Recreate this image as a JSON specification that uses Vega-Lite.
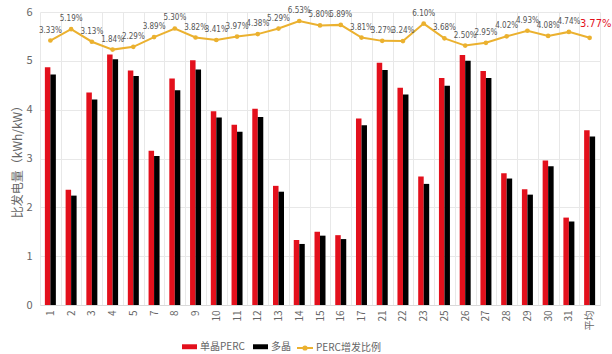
{
  "$schema": "https://vega.github.io/schema/vega-lite/v6.json",
  "width": 560,
  "height": 293,
  "autosize": "none",
  "padding": {"left": 40, "top": 12, "right": 12, "bottom": 49},
  "background": "white",
  "config": {
    "font": "Noto Sans CJK SC",
    "view": {"stroke": null}
  },
  "data": {
    "values": [
      {"cat": "1", "单晶PERC": 4.87, "多晶": 4.72, "pct": 0.0333},
      {"cat": "2", "单晶PERC": 2.36, "多晶": 2.24, "pct": 0.0519},
      {"cat": "3", "单晶PERC": 4.35, "多晶": 4.21, "pct": 0.0313},
      {"cat": "4", "单晶PERC": 5.13, "多晶": 5.03, "pct": 0.0184},
      {"cat": "5", "单晶PERC": 4.80, "多晶": 4.69, "pct": 0.0229},
      {"cat": "7", "单晶PERC": 3.16, "多晶": 3.05, "pct": 0.0389},
      {"cat": "8", "单晶PERC": 4.64, "多晶": 4.40, "pct": 0.0530},
      {"cat": "9", "单晶PERC": 5.01, "多晶": 4.82, "pct": 0.0382},
      {"cat": "10", "单晶PERC": 3.97, "多晶": 3.84, "pct": 0.0341},
      {"cat": "11", "单晶PERC": 3.69, "多晶": 3.55, "pct": 0.0397},
      {"cat": "12", "单晶PERC": 4.02, "多晶": 3.85, "pct": 0.0438},
      {"cat": "13", "单晶PERC": 2.44, "多晶": 2.32, "pct": 0.0529},
      {"cat": "14", "单晶PERC": 1.33, "多晶": 1.25, "pct": 0.0653},
      {"cat": "15", "单晶PERC": 1.50, "多晶": 1.42, "pct": 0.0580},
      {"cat": "16", "单晶PERC": 1.43, "多晶": 1.35, "pct": 0.0589},
      {"cat": "17", "单晶PERC": 3.82, "多晶": 3.68, "pct": 0.0381},
      {"cat": "21", "单晶PERC": 4.96, "多晶": 4.81, "pct": 0.0327},
      {"cat": "22", "单晶PERC": 4.45, "多晶": 4.31, "pct": 0.0324},
      {"cat": "23", "单晶PERC": 2.63, "多晶": 2.48, "pct": 0.0610},
      {"cat": "25", "单晶PERC": 4.65, "多晶": 4.49, "pct": 0.0368},
      {"cat": "26", "单晶PERC": 5.12, "多晶": 5.00, "pct": 0.0250},
      {"cat": "27", "单晶PERC": 4.79, "多晶": 4.65, "pct": 0.0295},
      {"cat": "28", "单晶PERC": 2.70, "多晶": 2.59, "pct": 0.0402},
      {"cat": "29", "单晶PERC": 2.37, "多晶": 2.26, "pct": 0.0493},
      {"cat": "30", "单晶PERC": 2.96, "多晶": 2.84, "pct": 0.0408},
      {"cat": "31", "单晶PERC": 1.79, "多晶": 1.71, "pct": 0.0474},
      {"cat": "平均", "单晶PERC": 3.58, "多晶": 3.45, "pct": 0.0377}
    ]
  },
  "encoding": {
    "x": {
      "field": "cat",
      "type": "nominal",
      "sort": null,
      "scale": {"paddingInner": 0, "paddingOuter": 0},
      "axis": {
        "title": null,
        "labelAngle": -90,
        "labelFontSize": 10,
        "labelColor": "#666666",
        "labelPadding": 5,
        "ticks": false,
        "grid": true,
        "tickBand": "extent",
        "gridColor": "#E8E8E8",
        "domainColor": "#D9D9D9"
      }
    }
  },
  "layer": [
    {
      "transform": [{"fold": ["单晶PERC", "多晶"], "as": ["series", "value"]}],
      "mark": {"type": "bar"},
      "encoding": {
        "xOffset": {
          "field": "series",
          "type": "nominal",
          "scale": {"domain": ["单晶PERC", "多晶"], "paddingInner": 0, "paddingOuter": 0.886}
        },
        "y": {
          "field": "value",
          "type": "quantitative",
          "scale": {"domain": [0, 6]},
          "axis": {
            "title": "比发电量（kWh/kW）",
            "titleFontSize": 12,
            "titleFontWeight": "normal",
            "titleColor": "#666666",
            "titlePadding": 1,
            "values": [0, 1, 2, 3, 4, 5, 6],
            "labelFontSize": 11,
            "labelColor": "#666666",
            "labelPadding": 8,
            "ticks": false,
            "domain": false,
            "gridColor": "#E8E8E8"
          }
        },
        "color": {
          "field": "series",
          "type": "nominal",
          "scale": {"domain": ["单晶PERC", "多晶"], "range": ["#E3101C", "#000000"]},
          "legend": {
            "title": null,
            "orient": "none",
            "direction": "horizontal",
            "legendX": 142,
            "legendY": 327,
            "symbolType": "M-1,-0.33H1V0.33H-1Z",
            "symbolSize": 225,
            "symbolStrokeWidth": 0,
            "labelFontSize": 10,
            "labelColor": "#666666",
            "labelOffset": 3,
            "columnPadding": 8
          }
        }
      }
    },
    {
      "mark": {"type": "line", "strokeWidth": 2},
      "encoding": {
        "y": {
          "field": "pct",
          "type": "quantitative",
          "scale": {"domain": [-0.4, 0.08]},
          "axis": null
        },
        "stroke": {
          "datum": "PERC增发比例",
          "type": "nominal",
          "scale": {"domain": ["PERC增发比例"], "range": ["#EBB12F"]},
          "legend": {
            "title": null,
            "orient": "none",
            "legendX": 256,
            "legendY": 327,
            "symbolType": "M-1,0H1M-0.2,0A0.2,0.2 0 1,0 0.2,0A0.2,0.2 0 1,0 -0.2,0",
            "symbolSize": 256,
            "symbolStrokeWidth": 2,
            "symbolFillColor": "#EBB12F",
            "labelFontSize": 10,
            "labelColor": "#666666",
            "labelOffset": 2
          }
        }
      }
    },
    {
      "mark": {"type": "circle", "size": 22, "color": "#EBB12F", "opacity": 1},
      "encoding": {
        "y": {"field": "pct", "type": "quantitative", "scale": {"domain": [-0.4, 0.08]}, "axis": null}
      }
    },
    {
      "transform": [{"filter": "datum.cat !== '平均'"}],
      "mark": {"type": "text", "dy": -10, "fontSize": 8, "font": "Liberation Sans Narrow, DejaVu Sans Condensed, sans-serif", "color": "#555555"},
      "encoding": {
        "y": {"field": "pct", "type": "quantitative", "scale": {"domain": [-0.4, 0.08]}, "axis": null},
        "text": {"field": "pct", "type": "quantitative", "format": ".2%"}
      }
    },
    {
      "transform": [{"filter": "datum.cat === '平均'"}],
      "mark": {"type": "text", "dy": -14, "dx": 6, "fontSize": 11, "font": "Liberation Sans Narrow, DejaVu Sans Condensed, sans-serif", "color": "#E3101C"},
      "encoding": {
        "y": {"field": "pct", "type": "quantitative", "scale": {"domain": [-0.4, 0.08]}, "axis": null},
        "text": {"field": "pct", "type": "quantitative", "format": ".2%"}
      }
    }
  ],
  "resolve": {"scale": {"y": "independent"}}
}
